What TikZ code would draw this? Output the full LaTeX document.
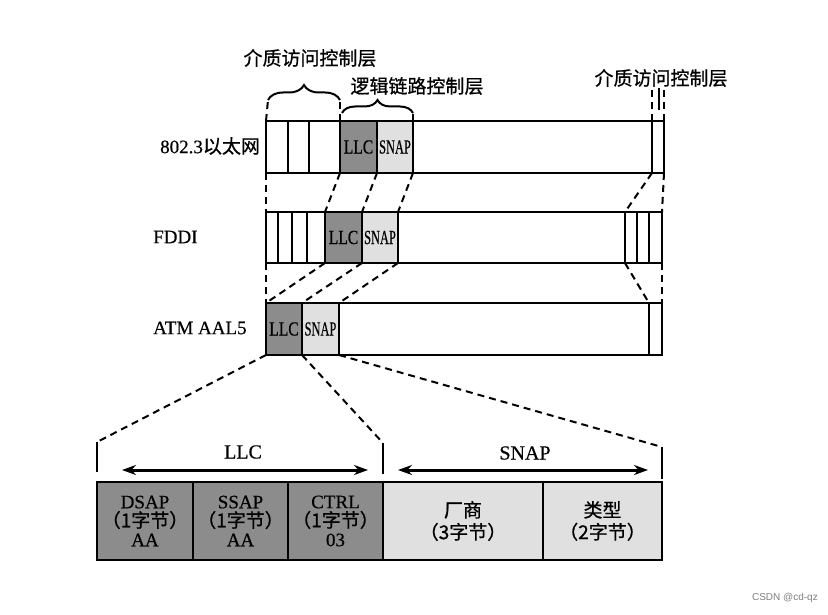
\documentclass[tikz,border=0pt]{standalone}
\usepackage{fontspec}
\usepackage{graphicx}
\setmainfont{Liberation Serif}[FakeBold=0.5]
\newfontfamily\cjk{Noto Sans CJK SC}[FakeBold=0.8]
\newfontfamily\wmfont{Liberation Sans}
\usetikzlibrary{decorations.pathreplacing,arrows.meta}
\definecolor{llcfill}{gray}{0.55}
\definecolor{snapfill}{gray}{0.88}
\tikzset{
  seg/.style={draw, line width=2.5pt, anchor=north west, inner sep=0pt, outer sep=0pt},
  llc/.style={seg, fill=llcfill},
  snap/.style={seg, fill=snapfill},
  dsh/.style={line width=2pt, dash pattern=on 7pt off 5pt},
  brc/.style={decorate, line width=2pt},
  lbl/.style={inner sep=0pt, font=\fontsize{19}{19}\selectfont},
  ttl/.style={inner sep=0pt, font=\cjk\fontsize{19}{19}\selectfont},
  insm/.style={font=\fontsize{20}{20}\selectfont},
  big/.style={align=center, font=\fontsize{19}{21}\selectfont},
  dbl/.style={line width=3pt, {Stealth[length=14pt,width=10pt]}-{Stealth[length=14pt,width=10pt]}}
}
\newcommand{\llctext}{\scalebox{0.78}[1]{LLC}}
\newcommand{\snaptext}{\scalebox{0.62}[1]{SNAP}}
\begin{document}
\begin{tikzpicture}[x=1pt,y=-1pt]
\useasboundingbox[fill=white] (0,0) rectangle (828,615);

% ---------- row 1 : 802.3
\node[lbl, anchor=west] (t1) at (160,146) {802.3{\cjk 以太网}};
\node[seg, minimum width=22, minimum height=52] (e1) at (266,121) {};
\node[seg, minimum width=21, minimum height=52] (e2) at (288,121) {};
\node[seg, minimum width=31, minimum height=52] (e3) at (309,121) {};
\node[llc, minimum width=37, minimum height=52, insm] (eL) at (340,121) {\llctext};
\node[snap, minimum width=36, minimum height=52, insm] (eS) at (377,121) {\snaptext};
\node[seg, minimum width=239, minimum height=52] (eD) at (413,121) {};
\node[seg, minimum width=12, minimum height=52] (eT) at (652,121) {};

% ---------- row 2 : FDDI
\node[lbl, anchor=west] (t2) at (153,237) {FDDI};
\node[seg, minimum width=12, minimum height=51] (f1) at (266,212) {};
\node[seg, minimum width=14, minimum height=51] (f2) at (278,212) {};
\node[seg, minimum width=15, minimum height=51] (f3) at (292,212) {};
\node[seg, minimum width=18, minimum height=51] (f4) at (307,212) {};
\node[llc, minimum width=37, minimum height=51, insm] (fL) at (325,212) {\llctext};
\node[snap, minimum width=36, minimum height=51, insm] (fS) at (362,212) {\snaptext};
\node[seg, minimum width=227, minimum height=51] (fD) at (398,212) {};
\node[seg, minimum width=12, minimum height=51] (fT1) at (625,212) {};
\node[seg, minimum width=12, minimum height=51] (fT2) at (637,212) {};
\node[seg, minimum width=13, minimum height=51] (fT3) at (649,212) {};

% ---------- row 3 : ATM AAL5
\node[lbl, anchor=west] (t3) at (153,328) {ATM AAL5};
\node[llc, minimum width=36, minimum height=52, insm] (aL) at (266,303) {\llctext};
\node[snap, minimum width=37, minimum height=52, insm] (aS) at (302,303) {\snaptext};
\node[seg, minimum width=310, minimum height=52] (aD) at (339,303) {};
\node[seg, minimum width=13, minimum height=52] (aT) at (649,303) {};

% ---------- top labels and braces
\coordinate (b1l) at (268,100);
\coordinate (b1r) at (340,100);
\coordinate (b2l) at (342,113);
\coordinate (b2r) at (413,113);
\draw[brc, decoration={brace, amplitude=15pt}] (b1l) -- (b1r);
\draw[brc, decoration={brace, amplitude=13pt}] (b2l) -- (b2r);
\node[ttl] (m1) at (310,58) {介质访问控制层};
\node[ttl] (m2) at (417,86) {逻辑链路控制层};
\node[ttl] (m3) at (661,78) {介质访问控制层};
\draw[dsh] (e1.north west) -- (b1l);
\draw[dsh] (eL.north west) -- (b1r);
\draw[dsh] (eS.north east) -- (b2r);
\coordinate (r1) at (652,90);
\coordinate (r2) at (664,90);
\coordinate (r3) at (659,88);
\coordinate (r4) at (659,110);
\draw[dsh] (eT.north west) -- (r1);
\draw[dsh] (eT.north east) -- (r2);
\draw[line width=1.6pt] (r3) -- (r4);

% ---------- row 1 -> row 2
\draw[dsh] (e1.south west) -- (f1.north west);
\draw[dsh] (eL.south west) -- (fL.north west);
\draw[dsh] (eS.south west) -- (fS.north west);
\draw[dsh] (eS.south east) -- (fS.north east);
\draw[dsh] (eT.south west) -- (fT1.north west);
\draw[dsh] (eT.south east) -- (fT3.north east);

% ---------- row 2 -> row 3
\draw[dsh] (f1.south west) -- (aL.north west);
\draw[dsh] (fL.south west) -- (aL.north west);
\draw[dsh] (fS.south west) -- (aS.north west);
\draw[dsh] (fS.south east) -- (aS.north east);
\draw[dsh] (fT1.south west) -- (aT.north west);
\draw[dsh] (fT3.south east) -- (aT.north east);

% ---------- detail
\node[llc, minimum width=96, minimum height=78, big] (bD) at (97,482) {DSAP\\[-2pt]{\cjk （1字节）}\\[-2pt]AA};
\node[llc, minimum width=95, minimum height=78, big] (bS) at (193,482) {SSAP\\[-2pt]{\cjk （1字节）}\\[-2pt]AA};
\node[llc, minimum width=95, minimum height=78, big] (bC) at (288,482) {CTRL\\[-2pt]{\cjk （1字节）}\\[-2pt]03};
\node[snap, minimum width=160, minimum height=78, big, font=\cjk\fontsize{19}{22}\selectfont] (bV) at (383,482) {厂商\\（3字节）};
\node[snap, minimum width=119, minimum height=78, big, font=\cjk\fontsize{19}{22}\selectfont] (bT) at (543,482) {类型\\（2字节）};

\coordinate (v1) at (97,442);
\coordinate (v2) at (383,443);
\coordinate (v3) at (662,447);
\draw[line width=1.4pt] (bD.north west) ++(0,-10) coordinate (v1b) (v1) -- (v1b);
\draw[line width=1.4pt] (bC.north east) ++(0,-8) coordinate (v2b) (v2) -- (v2b);
\draw[line width=1.4pt] (bT.north east) ++(0,-3) coordinate (v3b) (v3) -- (v3b);
\draw[dsh] (aL.south west) -- (v1);
\draw[dsh] (aL.south east) -- (v2);
\draw[dsh] (aS.south east) -- (v3);

\coordinate (a1) at (122,470);
\coordinate (a2) at (368,470);
\coordinate (a3) at (398,470);
\coordinate (a4) at (648,470);
\draw[dbl] (a1) -- (a2);
\draw[dbl] (a3) -- (a4);
\node[lbl, font=\fontsize{20}{20}\selectfont] (lL) at (243,452) {LLC};
\node[lbl, font=\fontsize{20}{20}\selectfont] (lS) at (525,453) {SNAP};

\node[inner sep=0pt, text=gray, font=\wmfont\fontsize{10}{10}\selectfont, anchor=east] (wm) at (818,598) {CSDN @cd-qz};
\end{tikzpicture}
\end{document}
